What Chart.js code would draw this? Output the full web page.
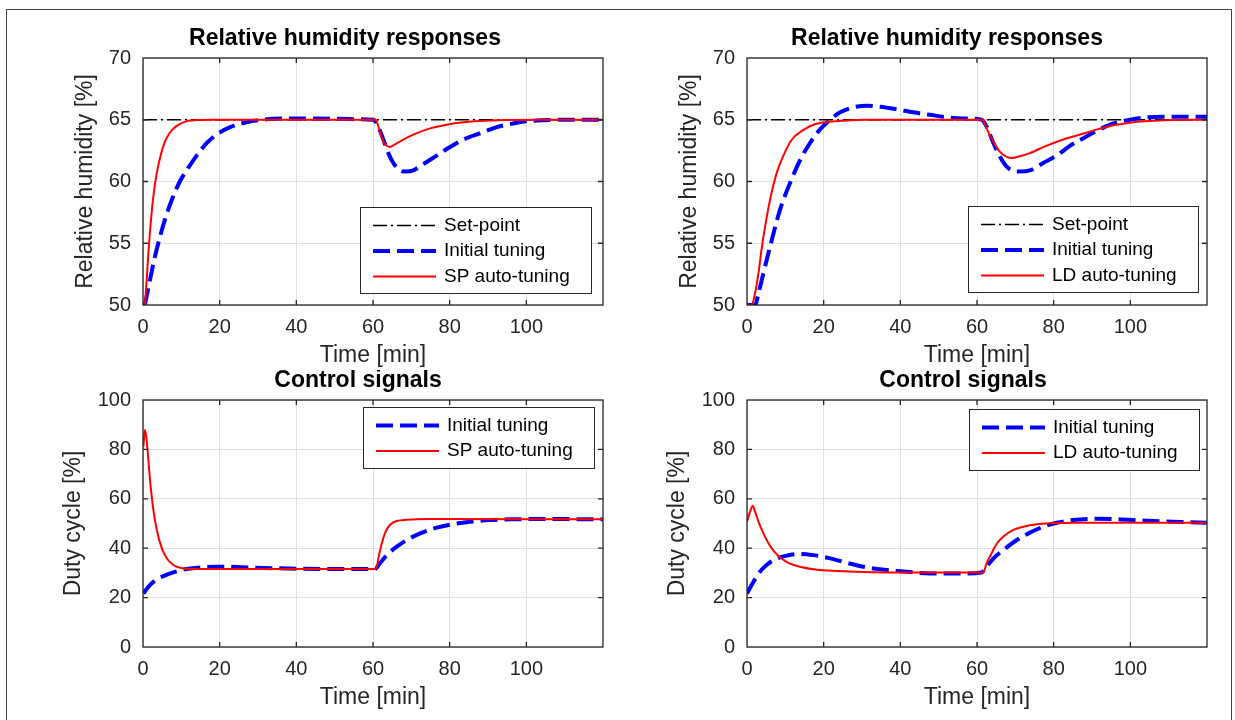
<!DOCTYPE html>
<html lang="en">
<head>
<meta charset="UTF-8">
<title>Relative humidity responses and control signals</title>
<style>
    html, body { margin: 0; padding: 0; background: #fff; overflow: hidden; }
    body { width: 1235px; height: 720px; position: relative; }
    .frame { position: absolute; left: 6px; top: 9px; width: 1224px; height: 730px; border: 1px solid #444; pointer-events: none; }
    .panel { position: absolute; width: 563px; height: 342px; }
</style>
<script src="https://cdn.jsdelivr.net/npm/chart.js"></script>
</head>
<body>
<div class="panel" style="left:60px; top:28px;"><canvas id="rhSP"></canvas></div>
<div class="panel" style="left:664px; top:28px;"><canvas id="rhLD"></canvas></div>
<div class="panel" style="left:60px; top:370px;"><canvas id="uSP"></canvas></div>
<div class="panel" style="left:664px; top:370px;"><canvas id="uLD"></canvas></div>
<div class="frame"></div>

<script>
// values (time in min)
const timeTicks = [0, 20, 40, 60, 80, 100];
const rhTicks = [50, 55, 60, 65, 70];
const dutyTicks = [0, 20, 40, 60, 80, 100];

const setTime = [0, 120];
const setValue = [65, 65];

// relative humidity, SP panel
const rhInitSPTime = [0.5, 1.8, 3.1, 4.4, 5.7, 7.5, 9.6, 11.8, 14, 16.6, 19.2, 22.7, 27, 31.4, 36, 45, 55, 60.1, 61.4, 62.7, 64, 65.3, 67, 68.8, 70.5, 73.1, 76.6, 80.1, 83.6, 87.9, 92.3, 96.6, 101, 109.7, 120];
const rhInitSPValue = [50, 52.0, 53.9, 55.5, 56.9, 58.5, 60.0, 61.1, 62.1, 63.1, 63.8, 64.4, 64.8, 65.0, 65.1, 65.1, 65.05, 65.0, 64.4, 63.4, 62.3, 61.5, 60.9, 60.8, 60.9, 61.4, 62.1, 62.8, 63.4, 63.9, 64.4, 64.7, 64.9, 65.0, 65.0];
const rhSPTime = [0.5, 0.96, 1.4, 2.0, 2.7, 3.6, 4.6, 5.7, 7.0, 8.8, 11, 14, 18.3, 60.7, 61.4, 62.0, 62.7, 63.6, 64.4, 65.7, 67.9, 70.5, 74.9, 79.2, 83.6, 87.9, 95, 105, 120];
const rhSPValue = [50, 52.0, 54.2, 56.6, 58.8, 60.7, 62.1, 63.2, 63.95, 64.5, 64.85, 64.97, 65, 65, 64.45, 63.8, 63.2, 62.9, 62.8, 63.0, 63.4, 63.8, 64.3, 64.6, 64.8, 64.9, 64.97, 65, 65];

// relative humidity, LD panel
const rhInitLDTime = [0, 2.1, 3.0, 4.3, 6.0, 8.6, 11.2, 13.8, 16.4, 19.0, 21.7, 24.3, 27.7, 31.2, 34.7, 39.1, 43.4, 47.7, 52.1, 56.4, 61.2, 62.5, 64.3, 66.0, 67.75, 69.5, 71.2, 73.8, 77.3, 80.8, 84.3, 87.7, 91.2, 95.6, 99.9, 104.3, 108.6, 120];
const rhInitLDValue = [50, 50, 50.95, 52.6, 54.7, 57.7, 59.85, 61.7, 63.1, 64.2, 65.0, 65.6, 66.0, 66.14, 66.06, 65.85, 65.6, 65.4, 65.2, 65.1, 65.0, 64.45, 63.1, 62.0, 61.2, 60.85, 60.8, 60.9, 61.5, 62.1, 62.9, 63.5, 64.1, 64.7, 65.0, 65.2, 65.25, 65.25];
const rhLDTime = [0, 1.2, 2.1, 3.0, 3.8, 4.7, 6.0, 7.75, 9.5, 11.7, 14.3, 17.3, 21.7, 26.0, 30.3, 61.2, 61.65, 62.5, 64.3, 66.0, 67.75, 69.1, 71.2, 73.8, 78.2, 82.5, 86.9, 91.2, 95.6, 99.9, 108.6, 120];
const rhLDValue = [50, 50, 50.95, 52.6, 54.5, 56.3, 58.5, 60.7, 62.1, 63.4, 64.1, 64.6, 64.85, 64.94, 65, 65, 64.95, 64.3, 63.2, 62.4, 62.0, 61.9, 62.05, 62.3, 62.9, 63.4, 63.8, 64.2, 64.55, 64.76, 64.95, 65.0];

// duty cycle, SP panel
const uInitSPTime = [0.1, 1.8, 3.6, 5.3, 7.9, 11.4, 15.7, 19.2, 24.4, 31.4, 40.1, 48.8, 60.5, 61.8, 63.6, 66.2, 68.8, 72.3, 76.6, 81.0, 85.3, 90.5, 96.6, 105.3, 120];
const uInitSPValue = [21.7, 25.1, 27.4, 28.7, 30.2, 31.6, 32.3, 32.5, 32.4, 32.0, 31.7, 31.6, 31.6, 33.9, 37.2, 40.6, 43.3, 46.0, 48.3, 49.8, 50.7, 51.4, 51.7, 51.8, 51.7];
const uSPTime = [0.1, 0.5, 0.96, 1.4, 2.0, 2.7, 3.6, 4.9, 6.2, 7.9, 9.65, 12.3, 60.5, 61.0, 61.4, 62.3, 63.1, 64.4, 66.2, 68.8, 74.9, 120];
const uSPValue = [81.1, 87.9, 83.8, 75.7, 64.9, 55.5, 47.4, 40.0, 35.9, 33.2, 32.1, 31.6, 31.6, 32.5, 35.9, 42.0, 46.0, 49.4, 51.0, 51.5, 51.8, 51.7];

// duty cycle, LD panel
const uInitLDTime = [0, 1.7, 3.4, 5.1, 7.3, 10.4, 13.8, 17.3, 21.7, 26.0, 30.3, 34.7, 39.1, 43.4, 47.7, 56.4, 61.2, 62.5, 64.3, 66.9, 70.4, 73.8, 77.3, 80.8, 85.1, 91.2, 95.6, 104.3, 113.0, 120];
const uInitLDValue = [21.7, 26.4, 30.5, 33.2, 35.5, 37.0, 37.7, 37.2, 35.9, 34.1, 32.5, 31.5, 30.8, 30.2, 29.8, 29.8, 30.2, 32.5, 35.9, 39.3, 43.3, 46.3, 48.7, 50.3, 51.4, 51.9, 51.8, 51.1, 50.6, 50.3];
const uLDTime = [0, 0.8, 1.5, 2.1, 3.0, 4.3, 5.6, 6.9, 8.6, 10.8, 13.8, 18.2, 23.4, 30.3, 39.1, 61.65, 62.5, 63.8, 65.1, 66.9, 69.5, 72.1, 75.6, 79.9, 86.9, 120];
const uLDValue = [50.7, 54.8, 57.2, 54.8, 50.7, 46.0, 42.0, 39.0, 36.3, 34.1, 32.5, 31.3, 30.8, 30.4, 30.2, 30.2, 33.9, 37.9, 41.7, 44.7, 47.4, 48.7, 49.7, 50.2, 50.3, 50.3];

const FONT = '"Liberation Sans", Arial, Helvetica, sans-serif';
Chart.defaults.font.family = FONT;
Chart.defaults.color = '#262626';

const setStyle = { borderColor: '#000000', borderWidth: 1.5, borderDash: [14, 4, 2, 4], order: 3 };
const initStyle = { borderColor: '#0000ff', borderWidth: 4, borderDash: [17, 7], order: 2 };
const autoStyle = { borderColor: '#ff0000', borderWidth: 2, order: 1 };

function series(label, t, v, style) {
    return Object.assign({
        label: label,
        data: t.map((x, i) => ({ x: x, y: v[i] })),
        pointRadius: 0,
        fill: false,
        cubicInterpolationMode: 'monotone'
    }, style);
}

// box and inward tick marks, matlab style
const frame = {
    id: 'frame',
    afterDatasetsDraw(chart) {
        const ctx = chart.ctx, a = chart.chartArea;
        const xs = chart.scales.x, ys = chart.scales.y;
        ctx.save();
        ctx.strokeStyle = '#262626';
        ctx.lineWidth = 1.3;
        ctx.setLineDash([]);
        ctx.strokeRect(a.left, a.top, a.right - a.left, a.bottom - a.top);
        ctx.beginPath();
        xs.ticks.forEach(t => {
            const px = xs.getPixelForValue(t.value);
            if (px <= a.left + 1 || px >= a.right - 1) return;
            ctx.moveTo(px, a.bottom); ctx.lineTo(px, a.bottom - 5);
            ctx.moveTo(px, a.top); ctx.lineTo(px, a.top + 5);
        });
        ys.ticks.forEach(t => {
            const py = ys.getPixelForValue(t.value);
            if (py <= a.top + 1 || py >= a.bottom - 1) return;
            ctx.moveTo(a.left, py); ctx.lineTo(a.left + 5, py);
            ctx.moveTo(a.right, py); ctx.lineTo(a.right - 5, py);
        });
        ctx.stroke();
        ctx.restore();
    }
};

const panelTitle = {
    id: 'panelTitle',
    afterDraw(chart, args, opts) {
        const ctx = chart.ctx, a = chart.chartArea;
        ctx.save();
        ctx.font = 'bold 23px ' + FONT;
        ctx.fillStyle = '#000';
        ctx.textAlign = 'center';
        ctx.textBaseline = 'middle';
        ctx.fillText(opts.text, (a.left + a.right) / 2 + opts.dx, a.top - 19);
        ctx.restore();
    }
};

const boxLegend = {
    id: 'boxLegend',
    afterDraw(chart, args, opts) {
        const ctx = chart.ctx, a = chart.chartArea;
        const items = chart.data.datasets;
        ctx.save();
        ctx.font = '19px ' + FONT;
        const tw = Math.max(...items.map(d => ctx.measureText(d.label).width));
        const rowH = 25.5;
        const w = 13 + 63 + 8 + tw + 21;
        const h = (items.length - 1) * rowH + 35;
        const x = Math.round(a.right - opts.right - w);
        const y = Math.round(opts.place === 'top' ? a.top + opts.gap : a.bottom - opts.gap - h);
        ctx.fillStyle = '#fff';
        ctx.fillRect(x, y, w, h);
        ctx.strokeStyle = '#262626';
        ctx.lineWidth = 1;
        ctx.strokeRect(x + 0.5, y + 0.5, Math.round(w), Math.round(h));
        items.forEach((d, i) => {
            const cy = y + 18.5 + i * rowH;
            ctx.beginPath();
            ctx.setLineDash(d.borderDash || []);
            ctx.lineWidth = d.borderWidth;
            ctx.strokeStyle = d.borderColor;
            ctx.moveTo(x + 13, cy);
            ctx.lineTo(x + 76, cy);
            ctx.stroke();
            ctx.setLineDash([]);
            ctx.fillStyle = '#000';
            ctx.textAlign = 'left';
            ctx.textBaseline = 'middle';
            ctx.fillText(d.label, x + 84, cy);
        });
        ctx.restore();
    }
};

function makePanel(id, p) {
    new Chart(document.getElementById(id), {
        type: 'line',
        data: { datasets: p.datasets },
        options: {
            responsive: true,
            maintainAspectRatio: false,
            animation: false,
            layout: { padding: { top: 30, right: 20, left: 0, bottom: 0 } },
            plugins: {
                legend: { display: false },
                tooltip: { enabled: false },
                panelTitle: { text: p.title, dx: p.titleDx },
                boxLegend: p.legend
            },
            scales: {
                x: {
                    type: 'linear', min: 0, max: 120,
                    afterBuildTicks: s => { s.ticks = timeTicks.map(v => ({ value: v })); },
                    afterFit: s => { s.height = 65; },
                    grid: { color: '#e0e0e0', drawTicks: false },
                    border: { display: false },
                    ticks: { padding: 10, color: '#262626', font: { size: 20 }, maxRotation: 0 },
                    title: { display: true, text: 'Time [min]', color: '#262626', font: { size: 23 }, padding: { top: 0, bottom: 0.5 } }
                },
                y: {
                    type: 'linear', min: p.yMin, max: p.yMax,
                    afterBuildTicks: s => { s.ticks = p.yTicks.map(v => ({ value: v })); },
                    afterFit: s => { s.width = 83; },
                    grid: { color: '#e0e0e0', drawTicks: false },
                    border: { display: false },
                    ticks: { padding: 12, color: '#262626', font: { size: 20 } },
                    title: { display: true, text: p.yTitle, color: '#262626', font: { size: 23 }, padding: { top: p.yTitlePad, bottom: 0 } }
                }
            }
        },
        plugins: [frame, panelTitle, boxLegend]
    });
}

makePanel('rhSP', {
    title: 'Relative humidity responses', titleDx: -28,
    yMin: 50, yMax: 70, yTicks: rhTicks, yTitle: 'Relative humidity [%]', yTitlePad: 12.2,
    legend: { place: 'bottom', right: 12, gap: 12 },
    datasets: [
        series('Set-point', setTime, setValue, setStyle),
        series('Initial tuning', rhInitSPTime, rhInitSPValue, initStyle),
        series('SP auto-tuning', rhSPTime, rhSPValue, autoStyle)
    ]
});

makePanel('rhLD', {
    title: 'Relative humidity responses', titleDx: -30,
    yMin: 50, yMax: 70, yTicks: rhTicks, yTitle: 'Relative humidity [%]', yTitlePad: 12.2,
    legend: { place: 'bottom', right: 9, gap: 13 },
    datasets: [
        series('Set-point', setTime, setValue, setStyle),
        series('Initial tuning', rhInitLDTime, rhInitLDValue, initStyle),
        series('LD auto-tuning', rhLDTime, rhLDValue, autoStyle)
    ]
});

makePanel('uSP', {
    title: 'Control signals', titleDx: -15,
    yMin: 0, yMax: 100, yTicks: dutyTicks, yTitle: 'Duty cycle [%]', yTitlePad: 0.2,
    legend: { place: 'top', right: 9, gap: 7 },
    datasets: [
        series('Initial tuning', uInitSPTime, uInitSPValue, initStyle),
        series('SP auto-tuning', uSPTime, uSPValue, autoStyle)
    ]
});

makePanel('uLD', {
    title: 'Control signals', titleDx: -14,
    yMin: 0, yMax: 100, yTicks: dutyTicks, yTitle: 'Duty cycle [%]', yTitlePad: 0.2,
    legend: { place: 'top', right: 8, gap: 9 },
    datasets: [
        series('Initial tuning', uInitLDTime, uInitLDValue, initStyle),
        series('LD auto-tuning', uLDTime, uLDValue, autoStyle)
    ]
});
</script>
</body>
</html>
